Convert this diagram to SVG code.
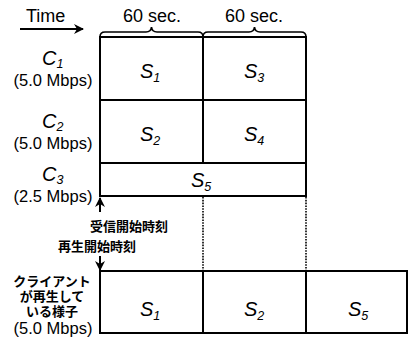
<svg xmlns="http://www.w3.org/2000/svg" width="409" height="343" viewBox="0 0 409 343">
<style>
.t{font-family:"Liberation Sans",Arial,sans-serif;fill:#000}
.lab{font-size:16.5px}
.it{font-size:20px;font-style:italic}
.sub{font-size:12.5px;font-style:italic}
.jp{font-family:"Liberation Sans","Noto Sans CJK JP",sans-serif;font-size:13px;font-weight:bold}
.ln{stroke:#000;stroke-width:2;fill:none}
.dot{stroke:#000;stroke-width:1.6;stroke-dasharray:1.6 1.2;fill:none}
.br{stroke:#000;stroke-width:1.6;fill:none}
</style>
<defs>
<marker id="ah" viewBox="0 0 10 10" refX="9" refY="5" markerWidth="10" markerHeight="10" markerUnits="userSpaceOnUse" orient="auto">
<path d="M0,0 L10,5 L0,10 L3,5 Z" fill="#000"/>
</marker>
</defs>
<g id="header">
<text class="t" x="26" y="22" font-size="18">Time</text>
<text class="t" x="152" y="22" font-size="18" text-anchor="middle">60 sec.</text>
<text class="t" x="254" y="22" font-size="18" text-anchor="middle">60 sec.</text>
</g>
<g id="connectors">
<line x1="20" y1="29" x2="83" y2="29" stroke="#000" stroke-width="2" marker-end="url(#ah)"/>
<path class="br" d="M100,37 Q100,32 105,32 L146,32 Q151,32 151.5,27 Q152,32 157,32 L198,32 Q203,32 203,37"/>
<path class="br" d="M203,37 Q203,32 208,32 L249,32 Q254,32 254.5,27 Q255,32 260,32 L301,32 Q306,32 306,37"/>
<line class="dot" x1="203" y1="197" x2="203" y2="270"/>
<line class="dot" x1="306" y1="197" x2="306" y2="270"/>
<line x1="100" y1="212" x2="100" y2="198" stroke="#000" stroke-width="2" marker-end="url(#ah)"/>
<line x1="100" y1="256" x2="100" y2="270" stroke="#000" stroke-width="2" marker-end="url(#ah)"/>
</g>
<g id="grid">
<rect class="ln" x="100" y="37" width="206" height="159"/>
<line class="ln" x1="100" y1="100" x2="306" y2="100"/>
<line class="ln" x1="100" y1="163" x2="306" y2="163"/>
<line class="ln" x1="203" y1="37" x2="203" y2="163"/>
</g>
<g id="labels-left">
<text class="t it" x="42" y="65">C<tspan class="sub" dy="3">1</tspan></text>
<text class="t lab" x="53" y="86" text-anchor="middle">(5.0 Mbps)</text>
<text class="t it" x="42" y="128">C<tspan class="sub" dy="3">2</tspan></text>
<text class="t lab" x="53" y="149" text-anchor="middle">(5.0 Mbps)</text>
<text class="t it" x="42" y="181">C<tspan class="sub" dy="3">3</tspan></text>
<text class="t lab" x="53" y="202" text-anchor="middle">(2.5 Mbps)</text>
</g>
<g id="cells">
<text class="t it" x="140" y="78">S<tspan class="sub" dy="4">1</tspan></text>
<text class="t it" x="244" y="78">S<tspan class="sub" dy="4">3</tspan></text>
<text class="t it" x="140" y="141">S<tspan class="sub" dy="4">2</tspan></text>
<text class="t it" x="244" y="141">S<tspan class="sub" dy="4">4</tspan></text>
<text class="t it" x="191" y="187">S<tspan class="sub" dy="4">5</tspan></text>
</g>
<g id="times">
<text class="t jp" x="90" y="231">受信開始時刻</text>
<text class="t jp" x="58" y="251">再生開始時刻</text>
</g>
<g id="playback">
<rect class="ln" x="100" y="271" width="307" height="62"/>
<line class="ln" x1="203" y1="271" x2="203" y2="333"/>
<line class="ln" x1="306" y1="271" x2="306" y2="333"/>
<text class="t jp" x="52" y="286" text-anchor="middle">クライアント</text>
<text class="t jp" x="52" y="301" text-anchor="middle">が再生して</text>
<text class="t jp" x="52" y="316" text-anchor="middle">いる様子</text>
<text class="t lab" x="53" y="334" text-anchor="middle">(5.0 Mbps)</text>
<text class="t it" x="140" y="316">S<tspan class="sub" dy="4">1</tspan></text>
<text class="t it" x="244" y="316">S<tspan class="sub" dy="4">2</tspan></text>
<text class="t it" x="348" y="316">S<tspan class="sub" dy="4">5</tspan></text>
</g>
</svg>
